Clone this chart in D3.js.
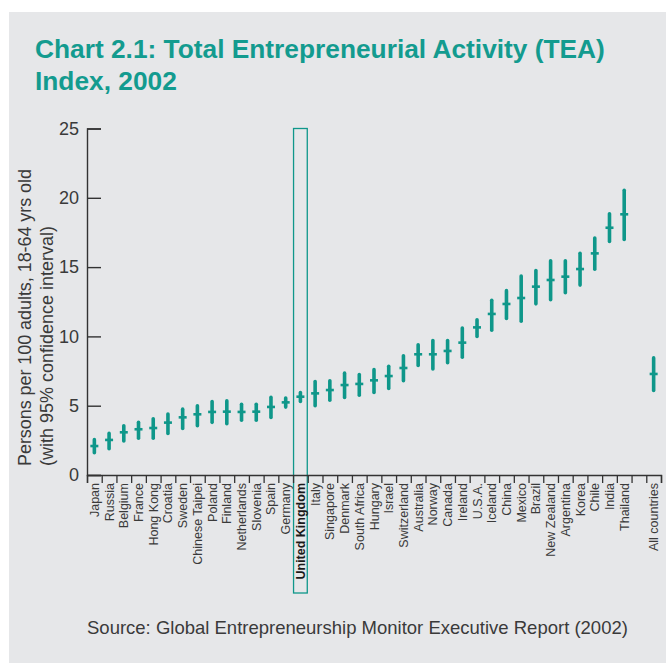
<!DOCTYPE html>
<html>
<head>
<meta charset="utf-8">
<script src="https://cdn.jsdelivr.net/npm/d3@7/dist/d3.min.js"></script>
<style>
  html, body { margin: 0; padding: 0; background: #ffffff; }
  svg { display: block; }
  text { font-family: "Liberation Sans", Arial, Helvetica, sans-serif; }
</style>
</head>
<body>
<svg id="chart" width="666" height="663"></svg>
<script>
// Total Entrepreneurial Activity index by country, 2002, with 95% confidence interval
const countries = ["Japan", "Russia", "Belgium", "France", "Hong Kong", "Croatia", "Sweden",
  "Chinese Taipei", "Poland", "Finland", "Netherlands", "Slovenia", "Spain", "Germany",
  "United Kingdom", "Italy", "Singapore", "Denmark", "South Africa", "Hungary", "Israel",
  "Switzerland", "Australia", "Norway", "Canada", "Ireland", "U.S.A.", "Iceland", "China",
  "Mexico", "Brazil", "New Zealand", "Argentina", "Korea", "Chile", "India", "Thailand",
  "All countries"];
const tea = [2.09, 2.53, 3.08, 3.30, 3.39, 3.78, 4.16, 4.38, 4.55, 4.57, 4.55, 4.57, 4.91, 5.24,
  5.65, 5.89, 6.13, 6.49, 6.57, 6.83, 7.14, 7.72, 8.71, 8.71, 8.95, 9.55, 10.65, 11.62, 12.34,
  12.77, 13.59, 14.07, 14.31, 14.86, 15.99, 17.84, 18.81, 7.29];
const ciLow = [1.6, 1.9, 2.45, 2.65, 2.65, 3.0, 3.35, 3.55, 3.8, 3.7, 3.95, 3.95, 4.15, 4.9,
  5.3, 5.0, 5.4, 5.6, 5.75, 5.95, 6.25, 6.8, 7.9, 7.65, 8.1, 8.5, 10.0, 10.45, 11.3,
  11.1, 12.35, 12.65, 13.15, 13.7, 14.85, 16.85, 17.0, 6.1];
const ciHigh = [2.55, 3.0, 3.55, 3.8, 4.05, 4.4, 4.75, 5.0, 5.3, 5.35, 5.1, 5.1, 5.6, 5.55,
  5.95, 6.75, 6.8, 7.35, 7.25, 7.6, 7.85, 8.6, 9.4, 9.7, 9.7, 10.6, 11.2, 12.6, 13.3,
  14.35, 14.75, 15.45, 15.45, 16.0, 17.1, 18.85, 20.55, 8.45];
const yTicks = [0, 5, 10, 15, 20, 25];
const highlight = "United Kingdom";

const teal = "#0f978a";
const ink = "#3a3a3a";

const svg = d3.select("#chart");

// panel background
svg.append("rect")
  .attr("x", 9).attr("y", 12).attr("width", 657).attr("height", 651)
  .attr("fill", "#e6e7e9");

// title
const title = svg.append("text")
  .attr("fill", "#139b8f")
  .attr("font-weight", "bold")
  .attr("font-size", 26.3);
title.append("tspan").attr("x", 35).attr("y", 58)
  .text("Chart 2.1: Total Entrepreneurial Activity (TEA)");
title.append("tspan").attr("x", 35).attr("y", 90)
  .text("Index, 2002");

// one empty slot separates the countries from the overall figure
const slots = countries.slice(0, -1).concat([""], countries.slice(-1));
const x0 = 87, x1 = 661, yTop = 128.5, yBase = 475;

const x = d3.scaleBand().domain(slots).range([x0, x1]).padding(0);
const xEdges = d3.scaleLinear().domain([0, slots.length]).range([x0, x1]);
const y = d3.scaleLinear().domain([0, 25]).range([yBase, yTop]);

// highlighted country frame
svg.append("rect")
  .attr("x", x(highlight) + 0.5)
  .attr("y", yTop)
  .attr("width", x.bandwidth() - 1)
  .attr("height", 593 - yTop)
  .attr("fill", "none")
  .attr("stroke", teal)
  .attr("stroke-width", 1.3);

// y axis, ticks pointing into the plot
const yAxis = svg.append("g")
  .attr("transform", `translate(${x0},0)`)
  .call(d3.axisLeft(y).tickValues(yTicks).tickSize(-14).tickPadding(8));
yAxis.select(".domain").attr("stroke", "#333").attr("stroke-width", 1.4);
yAxis.selectAll(".tick line").attr("stroke", "#333").attr("stroke-width", 1.4);
yAxis.selectAll(".tick text")
  .attr("fill", ink)
  .attr("font-size", 18)
  .style("font-family", "'Liberation Sans', Arial, sans-serif");

// x axis: boundary ticks between slots
const xTickAxis = svg.append("g")
  .attr("transform", `translate(0,${yBase})`)
  .call(d3.axisBottom(xEdges).tickValues(d3.range(0, slots.length + 1)).tickSize(8).tickFormat(""));
xTickAxis.select(".domain").attr("stroke", "#333").attr("stroke-width", 1.4);
xTickAxis.selectAll(".tick line").attr("stroke", "#333").attr("stroke-width", 1.3);

// x axis: rotated country names at slot centres
const xLabelAxis = svg.append("g")
  .attr("transform", `translate(0,${yBase})`)
  .call(d3.axisBottom(x).tickValues(countries).tickSize(0));
xLabelAxis.select(".domain").remove();
xLabelAxis.selectAll(".tick text")
  .attr("transform", "rotate(-90)")
  .attr("x", -8)
  .attr("y", 0)
  .attr("dy", "0.36em")
  .attr("text-anchor", "end")
  .attr("font-size", 12.5)
  .attr("font-weight", d => d === highlight ? "bold" : "normal")
  .attr("fill", d => d === highlight ? "#1a1a1a" : ink)
  .style("font-family", "'Liberation Sans', Arial, sans-serif");

// y axis title
const yTitle = svg.append("text")
  .attr("transform", "rotate(-90)")
  .attr("fill", ink)
  .attr("font-size", 18)
  .attr("text-anchor", "start");
yTitle.append("tspan").attr("x", -466).attr("y", 31)
  .attr("textLength", 297).attr("lengthAdjust", "spacing")
  .text("Persons per 100 adults, 18-64 yrs old");
yTitle.append("tspan").attr("x", -466).attr("y", 53)
  .text("(with 95% confidence interval)");

// confidence intervals and point estimates
const rows = countries.map((c, i) => ({ c, v: tea[i], lo: ciLow[i], hi: ciHigh[i] }));
const marks = svg.append("g");
marks.selectAll("line.ci").data(rows).join("line")
  .attr("class", "ci")
  .attr("x1", d => x(d.c) + x.bandwidth() / 2)
  .attr("x2", d => x(d.c) + x.bandwidth() / 2)
  .attr("y1", d => y(d.lo))
  .attr("y2", d => y(d.hi))
  .attr("stroke", teal)
  .attr("stroke-width", 3.6)
  .attr("stroke-linecap", "round");
marks.selectAll("line.est").data(rows).join("line")
  .attr("class", "est")
  .attr("x1", d => x(d.c) + x.bandwidth() / 2 - 4)
  .attr("x2", d => x(d.c) + x.bandwidth() / 2 + 4)
  .attr("y1", d => y(d.v))
  .attr("y2", d => y(d.v))
  .attr("stroke", teal)
  .attr("stroke-width", 2.6);

// source note
svg.append("text")
  .attr("x", 87).attr("y", 634)
  .attr("fill", ink)
  .attr("font-size", 18.5)
  .text("Source: Global Entrepreneurship Monitor Executive Report (2002)");
</script>
</body>
</html>
